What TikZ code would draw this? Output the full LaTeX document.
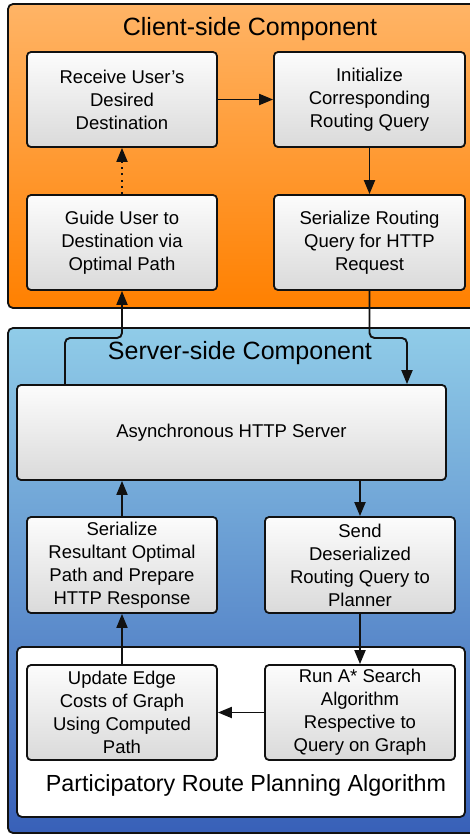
\documentclass[tikz,border=0pt]{standalone}
\usepackage{fontspec}
\setmainfont{Liberation Sans}
\usetikzlibrary{arrows.meta}
\definecolor{orTop}{HTML}{FFB466}
\definecolor{orBot}{HTML}{FF8000}
\definecolor{blTop}{HTML}{90CCE8}
\definecolor{blBot}{HTML}{3860B8}
\definecolor{bxTop}{HTML}{FCFCFC}
\definecolor{bxBot}{HTML}{DADADA}
\definecolor{ink}{HTML}{111111}
\tikzset{
  container/.style={draw=ink, line width=1.8pt, rounded corners=5pt},
  procbox/.style={draw=ink, line width=1.8pt, rounded corners=4pt, top color=bxTop, bottom color=bxBot,
     align=center, inner sep=0pt, font=\fontsize{18.5}{23}\selectfont},
  titletext/.style={font=\fontsize{25}{29}\selectfont, inner sep=0pt},
  conn/.style={line width=1.9pt, draw=ink, -{Triangle[length=14pt,width=11pt]}},
  dotconn/.style={conn, dash pattern=on 1.8pt off 4.5pt},
}
\begin{document}
\begin{tikzpicture}[x=1pt,y=-1pt]
\useasboundingbox (0,0) rectangle (470,836);
% containers
\shade[top color=orTop, bottom color=orBot, rounded corners=5pt] (8,4) rectangle (480,308);
\draw[container] (8,4) rectangle (480,308);
\shade[top color=blTop, bottom color=blBot, rounded corners=5pt] (8,328) rectangle (480,833);
\draw[container] (8,328) rectangle (480,833);
\draw[container, fill=white] (17,647) rectangle (465,817);
% titles
\node[titletext] (ctitle) at (250,29) {Client-side Component};
\node[titletext] (stitle) at (240,353) {Server-side Component};
\node[titletext, font=\fontsize{23.3}{27}\selectfont] (ptitle) at (246,785) {Participatory Route Planning Algorithm};
% client boxes
\node[procbox, minimum width=190pt, minimum height=95pt] (recv) at (122,99.5) {Receive User's\\Desired\\Destination};
\node[procbox, minimum width=191pt, minimum height=95pt] (init) at (369.5,99.5) {Initialize\\Corresponding\\Routing Query};
\node[procbox, minimum width=190pt, minimum height=95pt] (guide) at (122,242.5) {Guide User to\\Destination via\\Optimal Path};
\node[procbox, minimum width=191pt, minimum height=95pt] (ser) at (369.5,242.5) {Serialize Routing\\Query for HTTP\\Request};
% server boxes
\node[procbox, minimum width=429pt, minimum height=95pt] (http) at (231.5,432.5) {Asynchronous HTTP Server};
\node[procbox, minimum width=190pt, minimum height=96pt] (resp) at (122,565) {Serialize\\Resultant Optimal\\Path and Prepare\\HTTP Response};
\node[procbox, minimum width=190pt, minimum height=96pt] (send) at (360,565) {Send\\Deserialized\\Routing Query to\\Planner};
\node[procbox, minimum width=190pt, minimum height=95pt] (upd) at (122,712.5) {Update Edge\\Costs of Graph\\Using Computed\\Path};
\node[procbox, minimum width=190pt, minimum height=95pt] (runa) at (360,712.5) {Run A* Search\\Algorithm\\Respective to\\Query on Graph};
% connectors
\draw[conn] (recv.east) -- (init.west);
\draw[conn] (init.south) -- (ser.north);
\draw[dotconn] (guide.north) -- (recv.south);
\draw[conn, rounded corners=5pt] (ser.south) |- (388,338) -| (http.north -| 407,0);
\draw[conn, rounded corners=5pt] (http.north -| 65,0) |- (100,338) -| (guide.south);
\draw[conn] (http.south -| send.north) -- (send.north);
\draw[conn] (resp.north) -- (http.south -| resp.north);
\draw[conn] (send.south) -- (runa.north);
\draw[conn] (runa.west) -- (upd.east);
\draw[conn] (upd.north) -- (resp.south);
\end{tikzpicture}
\end{document}
